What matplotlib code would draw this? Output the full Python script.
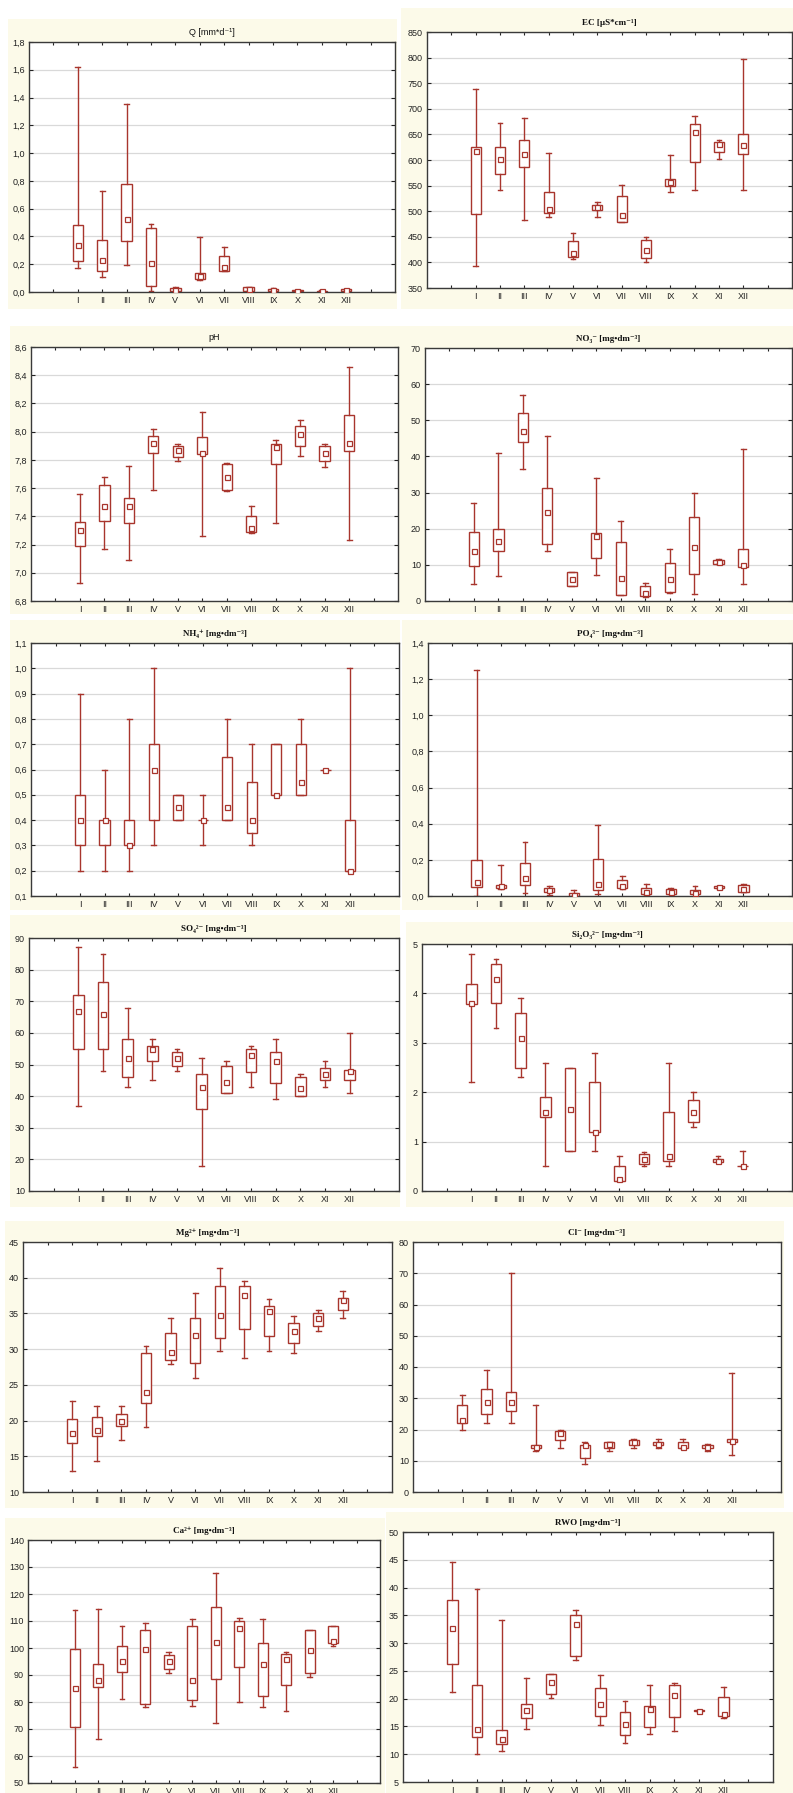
import matplotlib
matplotlib.use('Agg')
import matplotlib.pyplot as plt
from matplotlib.patches import Rectangle
from matplotlib.ticker import FuncFormatter, MultipleLocator

plt.rcParams['font.family'] = ['Liberation Sans', 'DejaVu Sans']

months = ['I', 'II', 'III', 'IV', 'V', 'VI', 'VII', 'VIII', 'IX', 'X', 'XI', 'XII']

# ---- Q [mm*d-1]
q_lo  = [0.173, 0.108, 0.197, 0.007, 0.0, 0.084, 0.154, 0.005, 0.0, 0.002, 0.0, 0.008]
q_q1  = [0.22, 0.151, 0.367, 0.046, 0.005, 0.096, 0.154, 0.007, 0.004, 0.004, 0.002, 0.01]
q_med = [0.336, 0.228, 0.528, 0.211, 0.012, 0.118, 0.18, 0.022, 0.014, 0.01, 0.006, 0.015]
q_q3  = [0.485, 0.377, 0.778, 0.461, 0.026, 0.137, 0.262, 0.034, 0.022, 0.016, 0.01, 0.022]
q_hi  = [1.62, 0.727, 1.356, 0.492, 0.036, 0.394, 0.324, 0.036, 0.026, 0.018, 0.012, 0.024]

# ---- EC [uS*cm-1]
ec_lo  = [392, 542, 482, 488, 406, 488, 478, 401, 538, 542, 601, 542]
ec_q1  = [494, 572, 586, 497, 410, 503, 478, 408, 549, 597, 616, 611]
ec_med = [618, 602, 612, 504, 418, 508, 492, 425, 558, 654, 632, 629]
ec_q3  = [625, 626, 640, 538, 441, 513, 529, 443, 563, 671, 636, 650]
ec_hi  = [738, 673, 682, 613, 457, 517, 551, 449, 610, 685, 640, 798]

# ---- pH
ph_lo  = [6.93, 7.17, 7.09, 7.59, 7.79, 7.26, 7.58, 7.28, 7.35, 7.83, 7.75, 7.23]
ph_q1  = [7.19, 7.37, 7.35, 7.85, 7.82, 7.84, 7.59, 7.29, 7.77, 7.90, 7.79, 7.86]
ph_med = [7.30, 7.47, 7.47, 7.92, 7.87, 7.85, 7.68, 7.32, 7.89, 7.98, 7.85, 7.92]
ph_q3  = [7.36, 7.62, 7.53, 7.97, 7.90, 7.96, 7.77, 7.40, 7.91, 8.04, 7.90, 8.12]
ph_hi  = [7.56, 7.68, 7.76, 8.02, 7.91, 8.14, 7.78, 7.47, 7.94, 8.08, 7.91, 8.46]

# ---- NO3-
no3_lo  = [4.7, 6.8, 36.4, 13.9, 4.2, 7.3, 1.7, 1.1, 2.2, 1.9, 10.1, 4.6]
no3_q1  = [9.8, 13.7, 43.9, 15.9, 4.2, 11.9, 1.7, 1.3, 2.6, 7.6, 10.3, 9.4]
no3_med = [13.7, 16.6, 47.0, 24.5, 6.1, 17.9, 6.4, 2.3, 6.2, 15.0, 10.9, 10.0]
no3_q3  = [19.2, 19.8, 51.9, 31.2, 8.0, 18.9, 16.4, 4.1, 10.5, 23.3, 11.4, 14.3]
no3_hi  = [27.0, 41.0, 57.0, 45.6, 8.0, 34.0, 22.0, 5.0, 14.5, 30.0, 11.5, 42.0]

# ---- NH4+
nh4_lo  = [0.2, 0.2, 0.2, 0.3, 0.4, 0.3, 0.4, 0.3, 0.5, 0.5, 0.6, 0.2]
nh4_q1  = [0.3, 0.3, 0.3, 0.4, 0.4, 0.4, 0.4, 0.35, 0.5, 0.5, 0.6, 0.2]
nh4_med = [0.4, 0.4, 0.3, 0.6, 0.45, 0.4, 0.45, 0.4, 0.5, 0.55, 0.6, 0.2]
nh4_q3  = [0.5, 0.4, 0.4, 0.7, 0.5, 0.4, 0.65, 0.55, 0.7, 0.7, 0.6, 0.4]
nh4_hi  = [0.9, 0.6, 0.8, 1.0, 0.5, 0.5, 0.8, 0.7, 0.7, 0.8, 0.6, 1.0]

# ---- PO4 3-
po4_lo  = [0.0, 0.041, 0.018, 0.004, 0.0, 0.011, 0.039, 0.004, 0.002, 0.002, 0.039, 0.02]
po4_q1  = [0.048, 0.046, 0.063, 0.022, 0.0, 0.035, 0.043, 0.009, 0.011, 0.011, 0.043, 0.024]
po4_med = [0.078, 0.054, 0.1, 0.035, 0.004, 0.065, 0.057, 0.02, 0.024, 0.018, 0.048, 0.037]
po4_q3  = [0.198, 0.059, 0.185, 0.044, 0.018, 0.207, 0.09, 0.046, 0.037, 0.035, 0.054, 0.061]
po4_hi  = [1.248, 0.174, 0.3, 0.055, 0.033, 0.394, 0.111, 0.065, 0.043, 0.055, 0.057, 0.068]

# ---- SO4 2-
so4_lo  = [37, 48, 43, 45, 48, 18, 41, 43, 39, 40, 43, 41]
so4_q1  = [55, 55, 46, 51, 49.5, 36, 41, 47.5, 44, 40, 45, 45]
so4_med = [67, 66, 52, 55, 52, 43, 44.5, 53, 51, 42.5, 47, 48]
so4_q3  = [72, 76, 58, 56, 54, 47, 49.4, 55, 54, 46, 49, 48.4]
so4_hi  = [87, 85, 68, 58, 55, 52, 51, 56, 58, 47, 51, 60]

# ---- Si2O3 2-
si_lo  = [2.2, 3.3, 2.3, 0.5, 0.8, 0.8, 0.2, 0.5, 0.5, 1.3, 0.6, 0.5]
si_q1  = [3.79, 3.8, 2.5, 1.5, 0.8, 1.2, 0.2, 0.54, 0.6, 1.39, 0.58, 0.5]
si_med = [3.8, 4.3, 3.1, 1.6, 1.65, 1.2, 0.24, 0.64, 0.7, 1.6, 0.6, 0.5]
si_q3  = [4.2, 4.6, 3.6, 1.9, 2.5, 2.2, 0.5, 0.74, 1.6, 1.85, 0.64, 0.51]
si_hi  = [4.8, 4.7, 3.9, 2.6, 2.5, 2.8, 0.7, 0.79, 2.6, 2.0, 0.7, 0.8]

# ---- Mg 2+
mg_lo  = [13.0, 14.3, 17.3, 19.05, 27.9, 25.9, 29.8, 28.7, 29.8, 29.4, 32.5, 34.3]
mg_q1  = [16.9, 17.9, 19.2, 22.4, 28.5, 28.0, 31.5, 32.8, 31.9, 30.8, 33.2, 35.5]
mg_med = [18.2, 18.7, 20.0, 24.0, 29.6, 32.0, 34.8, 37.6, 35.3, 32.6, 34.3, 36.9]
mg_q3  = [20.2, 20.5, 20.9, 29.5, 32.2, 34.3, 38.8, 38.8, 36.1, 33.7, 35.1, 37.2]
mg_hi  = [22.7, 22.0, 22.0, 30.4, 34.4, 37.9, 41.3, 39.5, 37.0, 34.6, 35.5, 38.2]

# ---- Cl-
cl_lo  = [20, 22, 22, 13, 14, 9, 13, 14, 14, 14, 13, 12]
cl_q1  = [22, 24.9, 26, 14, 16.5, 11, 14, 15, 15, 14, 14, 16]
cl_med = [23, 28.9, 28.9, 14.5, 18.9, 15, 15.3, 16, 15.3, 14.5, 14.5, 16.3]
cl_q3  = [28, 32.9, 32, 15, 19.6, 15, 15.9, 16.7, 16, 16, 15, 17]
cl_hi  = [31, 38.9, 70, 28, 20, 16, 16, 17, 17, 17, 15.5, 38]

# ---- Ca 2+
ca_lo  = [55.9, 66.4, 81.1, 78.0, 90.6, 78.7, 72.2, 80.0, 78.1, 76.8, 89.1, 100.6]
ca_q1  = [70.8, 85.5, 91.1, 79.1, 92.3, 80.6, 88.6, 92.8, 82.3, 86.4, 90.8, 101.8]
ca_med = [85.3, 88.0, 95.3, 99.6, 95.1, 88.0, 102.3, 107.3, 94.0, 96.1, 99.4, 102.7]
ca_q3  = [99.7, 94.1, 100.7, 106.5, 97.5, 108.0, 115.1, 110.0, 101.8, 97.6, 106.5, 108.0]
ca_hi  = [114.0, 114.5, 108.3, 109.2, 98.5, 110.8, 127.8, 111.2, 110.8, 98.7, 106.5, 108.0]

# ---- RWO
rwo_lo  = [21.2, 10.0, 10.6, 14.6, 20.1, 26.9, 15.2, 12.1, 13.7, 14.2, 17.6, 16.6]
rwo_q1  = [26.3, 13.1, 11.8, 16.5, 20.8, 27.6, 16.9, 13.5, 14.9, 16.7, 17.7, 16.9]
rwo_med = [32.8, 14.5, 12.8, 18.0, 23.0, 33.4, 19.1, 15.4, 18.1, 20.7, 17.8, 17.3]
rwo_q3  = [37.8, 22.4, 14.4, 19.1, 24.5, 35.1, 22.0, 17.6, 18.7, 22.4, 17.9, 20.3]
rwo_hi  = [44.6, 39.7, 34.2, 23.7, 24.5, 36.0, 24.3, 19.6, 22.5, 22.9, 18.0, 22.1]

W, H = 793, 1793
fig = plt.figure(figsize=(W / 100, H / 100), dpi=100)
fig.patch.set_facecolor('white')

CREAM = '#FCFAE9'
RED = '#A8352D'
SERIF = ['Liberation Serif', 'DejaVu Serif']
SANS = ['Liberation Sans', 'DejaVu Sans']


def frac(x0, y0, x1, y1):
    return [x0 / W, 1 - y1 / H, (x1 - x0) / W, (y1 - y0) / H]


panels = [
    ('Q [mm*d⁻¹]', SANS, 'normal', (8, 19, 397, 309), (29, 42, 395, 292), (0, 1.8), 0.2, 1,
     (q_lo, q_q1, q_med, q_q3, q_hi)),
    ('EC [µS*cm⁻¹]', SERIF, 'bold', (401, 8, 793, 309), (427, 32, 792, 288), (350, 850), 50, 0,
     (ec_lo, ec_q1, ec_med, ec_q3, ec_hi)),
    ('pH', SANS, 'normal', (10, 326, 400, 614), (31, 347, 398, 601), (6.8, 8.6), 0.2, 1,
     (ph_lo, ph_q1, ph_med, ph_q3, ph_hi)),
    ('NO₃⁻ [mg•dm⁻³]', SERIF, 'bold', (398, 326, 793, 614), (425, 348, 792, 601), (0, 70), 10, 0,
     (no3_lo, no3_q1, no3_med, no3_q3, no3_hi)),
    ('NH₄⁺ [mg•dm⁻³]', SERIF, 'bold', (10, 620, 400, 910), (31, 643, 399, 896), (0.1, 1.1), 0.1, 1,
     (nh4_lo, nh4_q1, nh4_med, nh4_q3, nh4_hi)),
    ('PO₄³⁻ [mg•dm⁻³]', SERIF, 'bold', (402, 620, 793, 910), (428, 643, 792, 896), (0, 1.4), 0.2, 1,
     (po4_lo, po4_q1, po4_med, po4_q3, po4_hi)),
    ('SO₄²⁻ [mg•dm⁻³]', SERIF, 'bold', (10, 915, 400, 1207), (29, 938, 399, 1191), (10, 90), 10, 0,
     (so4_lo, so4_q1, so4_med, so4_q3, so4_hi)),
    ('Si₂O₃²⁻ [mg•dm⁻³]', SERIF, 'bold', (406, 922, 793, 1207), (422, 944, 792, 1191), (0, 5), 1, 0,
     (si_lo, si_q1, si_med, si_q3, si_hi)),
    ('Mg²⁺ [mg•dm⁻³]', SERIF, 'bold', (5, 1221, 400, 1508), (23, 1242, 392, 1492), (10, 45), 5, 0,
     (mg_lo, mg_q1, mg_med, mg_q3, mg_hi)),
    ('Cl⁻ [mg•dm⁻³]', SERIF, 'bold', (396, 1221, 784, 1508), (413, 1242, 781, 1492), (0, 80), 10, 0,
     (cl_lo, cl_q1, cl_med, cl_q3, cl_hi)),
    ('Ca²⁺ [mg•dm⁻³]', SERIF, 'bold', (5, 1518, 385, 1793), (28, 1540, 380, 1783), (50, 140), 10, 0,
     (ca_lo, ca_q1, ca_med, ca_q3, ca_hi)),
    ('RWO [mg•dm⁻³]', SERIF, 'bold', (386, 1512, 793, 1793), (403, 1532, 773, 1782), (5, 50), 5, 0,
     (rwo_lo, rwo_q1, rwo_med, rwo_q3, rwo_hi)),
]

positions = list(range(1, 13))

for title, tfam, tweight, bg, axr, ylim, step, dec, data in panels:
    bx0, by0, bx1, by1 = bg
    fig.add_artist(Rectangle((bx0 / W, 1 - by1 / H), (bx1 - bx0) / W, (by1 - by0) / H,
                             transform=fig.transFigure, facecolor=CREAM, edgecolor='none', zorder=0))
    ax = fig.add_axes(frac(*axr))
    ax.set_facecolor('white')
    lo, q1, med, q3, hi = data
    stats = [dict(whislo=a, q1=b, med=c, q3=d, whishi=e, fliers=[])
             for a, b, c, d, e in zip(lo, q1, med, q3, hi)]
    ax.bxp(stats, positions=positions, widths=0.42, capwidths=0.2, showfliers=False,
           patch_artist=True,
           boxprops=dict(facecolor='white', edgecolor=RED, linewidth=1.0),
           whiskerprops=dict(color=RED, linewidth=1.0),
           capprops=dict(color=RED, linewidth=1.0),
           medianprops=dict(visible=False), manage_ticks=False)
    ax.plot(positions, med, ls='none', marker='s', ms=3.6, mfc='white', mec=RED, mew=0.9, zorder=6)
    ax.set_xlim(-1, 14)
    ax.set_ylim(*ylim)
    ax.yaxis.set_major_locator(MultipleLocator(step))
    ax.yaxis.set_major_formatter(FuncFormatter(lambda v, p, d=dec: (f'{v:.{d}f}').replace('.', ',')))
    ax.set_xticks(list(range(0, 14)))
    ax.set_xticklabels([''] + months + [''])
    ax.tick_params(axis='both', direction='in', top=True, right=True, length=3, width=0.8,
                   labelsize=6.5, pad=3, colors='#222222')
    ax.tick_params(axis='x', length=2.5)
    ax.yaxis.grid(True, color='#d9d9d9', linewidth=0.9)
    ax.set_axisbelow(True)
    for s in ax.spines.values():
        s.set_color('#3a3a3a')
        s.set_linewidth(1.0)
    ax.set_title(title, fontsize=6.5, family=tfam, weight=tweight, pad=5, color='#111111')

fig.savefig('out.png', dpi=100, facecolor='white')
